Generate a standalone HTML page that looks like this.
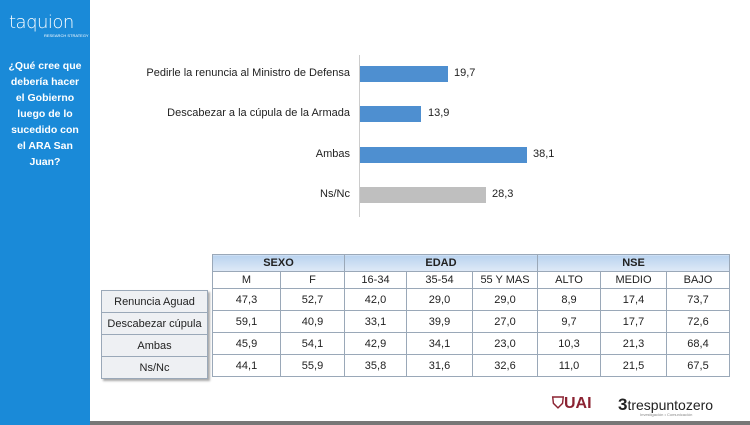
<!DOCTYPE html>
<html><head><meta charset="utf-8"><style>
*{margin:0;padding:0;box-sizing:border-box}
body{width:750px;height:425px;background:#fff;position:relative;overflow:hidden;font-family:"Liberation Sans",sans-serif}
.side{position:absolute;left:0;top:0;width:90px;height:425px;background:#1a8ad8}
.logo{position:absolute;left:9px;top:12px;color:#fff;font-size:18px;letter-spacing:-0.5px;font-family:"DejaVu Sans",sans-serif;font-weight:300}
.logosub{position:absolute;left:44px;top:33px;color:#fff;font-size:4px}
.q{position:absolute;left:0;top:58px;width:90px;text-align:center;color:#fff;font-size:10.5px;font-weight:bold;line-height:16px}
.lbl{position:absolute;right:400px;font-size:11px;color:#222;white-space:nowrap}
.bar{position:absolute;left:360px;height:16px}
.val{position:absolute;font-size:11px;color:#222}
.axis{position:absolute;left:359px;top:55px;width:1px;height:162px;background:#ccc}
table{position:absolute;border-collapse:collapse;font-size:11px;color:#222}
td{border:1px solid #9aa8b8;text-align:center;padding:0}
.hd td{background:linear-gradient(#b9d3ef,#dfeaf7);font-weight:bold;height:17px}
.sub td{height:17px;background:#fff}
.dr td{height:22px}
.lt td{background:#eef0f3;height:22px;width:106px}
.bottom{position:absolute;left:90px;right:0;top:421px;height:4px;background:#777}
</style></head><body>
<div class="side"><div class="logo">taquion</div><div class="logosub">RESEARCH STRATEGY</div>
<div class="q">¿Qué cree que<br>debería hacer<br>el Gobierno<br>luego de lo<br>sucedido con<br>el ARA San<br>Juan?</div></div>
<div class="axis"></div>
<div class="lbl" style="top:67px">Pedirle la renuncia al Ministro de Defensa</div>
<div class="lbl" style="top:107px">Descabezar a la cúpula de la Armada</div>
<div class="lbl" style="top:148px">Ambas</div>
<div class="lbl" style="top:188px">Ns/Nc</div>
<div class="bar" style="top:66px;width:88px;background:#4e8fd0"></div>
<div class="bar" style="top:106px;width:61px;background:#4e8fd0"></div>
<div class="bar" style="top:147px;width:167px;background:#4e8fd0"></div>
<div class="bar" style="top:187px;width:126px;background:#bfbfbf"></div>
<div class="val" style="left:454px;top:67px">19,7</div>
<div class="val" style="left:428px;top:107px">13,9</div>
<div class="val" style="left:533px;top:148px">38,1</div>
<div class="val" style="left:492px;top:188px">28,3</div>
<table style="left:212px;top:254px;width:518px">
<tr class="hd"><td colspan="2">SEXO</td><td colspan="3">EDAD</td><td colspan="3">NSE</td></tr>
<tr class="sub"><td style="width:68px">M</td><td style="width:64px">F</td><td style="width:62px">16-34</td><td style="width:66px">35-54</td><td style="width:65px">55 Y MAS</td><td style="width:63px">ALTO</td><td style="width:66px">MEDIO</td><td>BAJO</td></tr>
<tr class="dr"><td>47,3</td><td>52,7</td><td>42,0</td><td>29,0</td><td>29,0</td><td>8,9</td><td>17,4</td><td>73,7</td></tr>
<tr class="dr"><td>59,1</td><td>40,9</td><td>33,1</td><td>39,9</td><td>27,0</td><td>9,7</td><td>17,7</td><td>72,6</td></tr>
<tr class="dr"><td>45,9</td><td>54,1</td><td>42,9</td><td>34,1</td><td>23,0</td><td>10,3</td><td>21,3</td><td>68,4</td></tr>
<tr class="dr"><td>44,1</td><td>55,9</td><td>35,8</td><td>31,6</td><td>32,6</td><td>11,0</td><td>21,5</td><td>67,5</td></tr>
</table>
<table class="lt" style="left:101px;top:290px;box-shadow:2px 2px 2px #aaa">
<tr class="lt"><td>Renuncia Aguad</td></tr>
<tr class="lt"><td>Descabezar cúpula</td></tr>
<tr class="lt"><td>Ambas</td></tr>
<tr class="lt"><td>Ns/Nc</td></tr>
</table>
<div style="position:absolute;left:552px;top:395px;font-size:16px;font-weight:bold;color:#8b2332">⛉UAI</div>
<div style="position:absolute;left:618px;top:395px;font-size:14px;color:#222"><b style="font-size:17px">3</b>trespuntozero</div>
<div style="position:absolute;left:640px;top:412px;font-size:4px;color:#888">Investigación • Comunicación</div>
<div class="bottom"></div>
</body></html>
